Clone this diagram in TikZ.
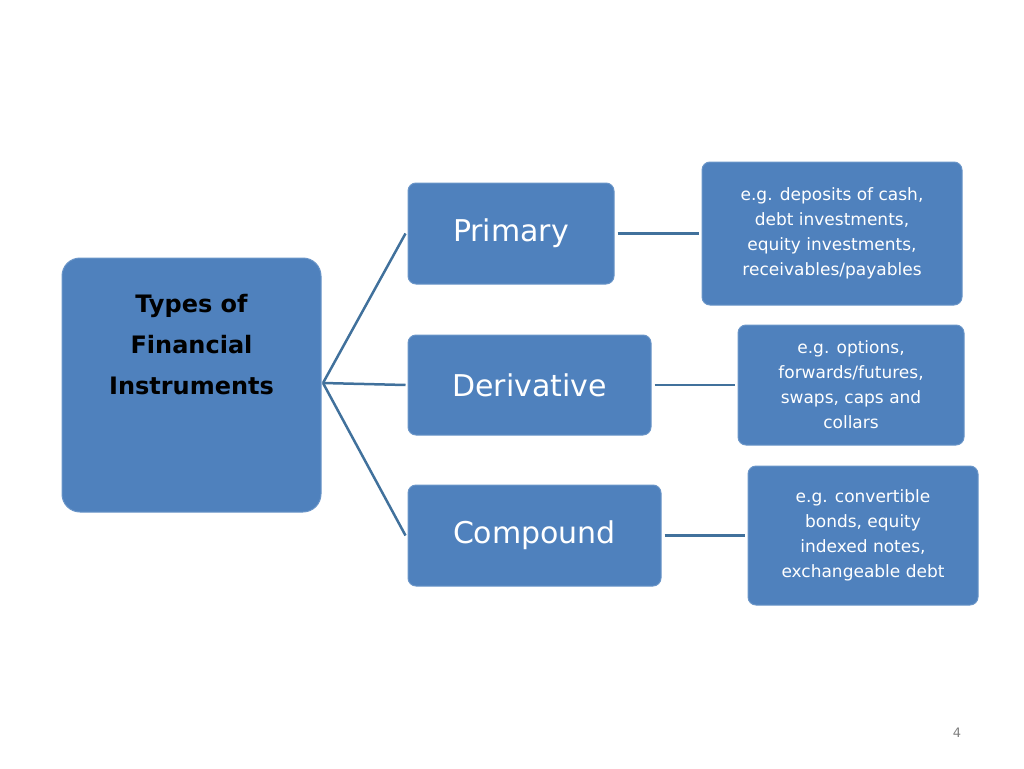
\documentclass[tikz,border=0pt]{standalone}
\usepackage{fontspec}
\setmainfont{DejaVu Sans}
\begin{document}
\begin{tikzpicture}[x=1pt,y=-1pt,
  box/.style={fill=boxblue,draw=boxedge,line width=1pt,rounded corners=8pt,text=white,align=center,inner sep=0pt},
  conn/.style={draw=lineblue,line width=2.5pt}]
\definecolor{boxblue}{HTML}{4F81BD}
\definecolor{boxedge}{HTML}{6A95C8}
\definecolor{lineblue}{HTML}{41719C}
\useasboundingbox (0,0) rectangle (1024,768);
\node[box,rounded corners=18pt,minimum width=259pt,minimum height=254pt,text=black,font=\bfseries\fontsize{24}{41}\selectfont] (main) at (191.5,385) {\raisebox{0pt}[0pt][0pt]{}Types of\\Financial\\Instruments\\[41pt]};
\node[box,minimum width=206pt,minimum height=101pt,font=\fontsize{30}{36}\selectfont] (p) at (511,233.5) {Primary};
\node[box,minimum width=243pt,minimum height=100pt,font=\fontsize{30}{36}\selectfont] (d) at (529.5,385) {Derivative};
\node[box,minimum width=253pt,minimum height=101pt,font=\fontsize{30}{36}\selectfont] (c) at (534.5,535.5) {Compound};
\node[box,minimum width=260pt,minimum height=143pt,font=\fontsize{17}{25}\selectfont] (pd) at (832,233.5) {e.g. deposits of cash,\\debt investments,\\equity investments,\\receivables/payables};
\node[box,minimum width=226pt,minimum height=120pt,font=\fontsize{17}{25}\selectfont] (dd) at (851,385) {e.g. options,\\forwards/futures,\\swaps, caps and\\collars};
\node[box,minimum width=230pt,minimum height=139pt,font=\fontsize{17}{25}\selectfont] (cd) at (863,535.5) {e.g. convertible\\bonds, equity\\indexed notes,\\exchangeable debt};
\coordinate (m) at (323,383);
\draw[conn] (m) -- ([xshift=-2pt]p.west);
\draw[conn] (m) -- ([xshift=-2pt]d.west);
\draw[conn] (m) -- ([xshift=-2pt]c.west);
\draw[conn] ([xshift=3pt]p.east) -- ([xshift=-3pt]pd.west);
\draw[conn] ([xshift=3pt]d.east) -- ([xshift=-3pt]dd.west);
\draw[conn] ([xshift=3pt]c.east) -- ([xshift=-3pt]cd.west);
\node[text=gray,font=\fontsize{13}{15}\selectfont] (pg) at (957,733) {4};
\end{tikzpicture}
\end{document}
